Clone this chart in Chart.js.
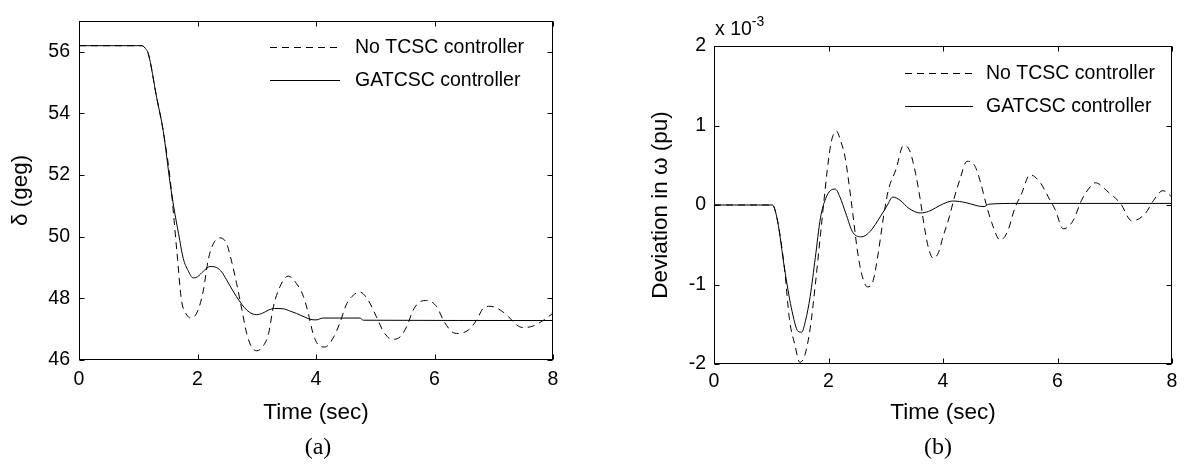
<!DOCTYPE html>
<html>
<head>
<meta charset="utf-8">
<script src="https://cdn.jsdelivr.net/npm/chart.js@4.4.0/dist/chart.umd.min.js"></script>
<style>
  html, body { margin: 0; padding: 0; background: #fff; }
  #wrap { position: relative; width: 1187px; height: 467px; overflow: hidden;
          font-family: "Liberation Sans", Arial, sans-serif; color: #000; }
  canvas { position: absolute; top: 0; }
  #chartA { left: 0; }
  #chartB { left: 620px; }
  .cap { position: absolute; top: 432px; width: 60px; margin-left: -30px; text-align: center;
         font-family: "Liberation Serif", "Times New Roman", serif; font-size: 24px; line-height: 28px; }
  .exp { position: absolute; left: 715px; top: 11px; font-size: 19.5px; line-height: 20px; white-space: nowrap; }
  .exp sup { font-size: 14px; vertical-align: 9px; }
</style>
</head>
<body>
<div id="wrap">
  <canvas id="chartA" width="600" height="467"></canvas>
  <canvas id="chartB" width="567" height="467"></canvas>
  <div class="exp">x 10<sup>-3</sup></div>
  <div class="cap" style="left:318px">(a)</div>
  <div class="cap" style="left:938px">(b)</div>
</div>
<script>
// (a) rotor angle, degrees
const tAngleNo = [0, 1.06, 1.12, 1.17, 1.31, 1.42, 1.54, 1.65, 1.73, 1.82, 1.9, 2.01, 2.1, 2.18, 2.27, 2.38, 2.49, 2.57, 2.66, 2.75,
  2.83, 2.91, 3.0, 3.1, 3.2, 3.28, 3.39, 3.53, 3.67, 3.79, 3.87, 3.95, 4.04, 4.15, 4.3, 4.4, 4.52, 4.63, 4.74, 4.88,
  5.02, 5.14, 5.28, 5.42, 5.53, 5.64, 5.76, 5.87, 6.04, 6.15, 6.29, 6.4, 6.57, 6.71, 6.82, 6.94, 7.11, 7.25, 7.39, 7.5,
  7.66, 7.84, 8.0];
const angleNo = [56.19, 56.19, 56.1, 55.93, 54.52, 53.44, 51.83, 49.56, 47.94, 47.46, 47.36, 47.62, 48.27, 49.24, 49.78, 49.96, 49.78, 49.24, 48.48, 47.62,
  46.86, 46.43, 46.3, 46.43, 46.86, 47.72, 48.37, 48.72, 48.48, 48.05, 47.51, 46.86, 46.49, 46.42, 46.75, 47.19, 47.83, 48.1, 48.2, 47.94,
  47.4, 46.92, 46.67, 46.75, 47.08, 47.62, 47.89, 47.93, 47.72, 47.29, 46.92, 46.86, 46.97, 47.29, 47.67, 47.74, 47.62, 47.4, 47.13, 47.05,
  47.1, 47.29, 47.52];
const tAngleGa = [0, 1.06, 1.12, 1.17, 1.31, 1.42, 1.54, 1.6, 1.68, 1.76, 1.84, 1.93, 2.0, 2.1, 2.21, 2.32, 2.41, 2.49, 2.58, 2.66,
  2.75, 2.83, 2.92, 3.0, 3.1, 3.2, 3.3, 3.45, 3.57, 3.67, 3.8, 3.9, 4.0, 4.12, 4.4, 4.74, 4.8, 8.0];
const angleGa = [56.19, 56.19, 56.1, 55.93, 54.52, 53.44, 51.7, 50.95, 50.1, 49.29, 48.9, 48.66, 48.7, 48.88, 49.03, 49.0, 48.85, 48.6, 48.3, 48.05,
  47.8, 47.62, 47.5, 47.47, 47.52, 47.62, 47.67, 47.66, 47.58, 47.51, 47.4, 47.32, 47.3, 47.36, 47.36, 47.36, 47.29, 47.28];

// (b) speed deviation, x 1e-3 pu
const tSpeedNo = [0, 1.02, 1.11, 1.23, 1.32, 1.41, 1.5, 1.59, 1.68, 1.77, 1.86, 1.92, 1.98, 2.05, 2.14, 2.21, 2.29, 2.37, 2.44, 2.5,
  2.58, 2.68, 2.78, 2.87, 2.96, 3.05, 3.18, 3.31, 3.42, 3.52, 3.6, 3.68, 3.75, 3.83, 3.92, 4.0, 4.11, 4.2, 4.29, 4.42,
  4.55, 4.65, 4.75, 4.85, 5.0, 5.13, 5.25, 5.37, 5.52, 5.69, 5.84, 5.96, 6.1, 6.27, 6.42, 6.54, 6.66, 6.89, 7.1, 7.3,
  7.53, 7.68, 7.84, 8.0];
const speedNo = [0, 0, -0.2, -0.79, -1.45, -1.75, -1.98, -1.88, -1.55, -1.0, -0.37, 0.05, 0.45, 0.8, 0.93, 0.81, 0.6, 0.2, -0.2, -0.55,
  -0.87, -1.03, -0.95, -0.6, -0.15, 0.2, 0.45, 0.75, 0.68, 0.4, 0.08, -0.3, -0.55, -0.67, -0.6, -0.4, -0.15, 0.1, 0.31, 0.55,
  0.5, 0.3, 0.02, -0.22, -0.44, -0.33, -0.05, 0.14, 0.38, 0.29, 0.1, -0.06, -0.3, -0.2, 0.06, 0.2, 0.28, 0.16, 0.02, -0.2,
  -0.11, 0.06, 0.18, 0.1];
const tSpeedGa = [0, 1.02, 1.11, 1.23, 1.35, 1.47, 1.53, 1.6, 1.68, 1.77, 1.86, 1.95, 2.03, 2.12, 2.2, 2.3, 2.43, 2.58, 2.73, 2.91,
  3.03, 3.12, 3.25, 3.4, 3.6, 3.75, 3.99, 4.17, 4.4, 4.6, 4.72, 4.8, 5.3, 6.5, 8.0];
const speedGa = [0, 0, -0.2, -0.79, -1.29, -1.59, -1.6, -1.45, -1.15, -0.66, -0.16, 0.08, 0.18, 0.2, 0.1, -0.1, -0.35, -0.4, -0.33, -0.14,
  0.0, 0.1, 0.06, -0.04, -0.1, -0.08, 0.01, 0.05, 0.03, -0.01, -0.02, 0.01, 0.02, 0.02, 0.02];

const timeTicks = [0, 2, 4, 6, 8];
const angleTicks = [46, 48, 50, 52, 54, 56];
const speedTicks = [-2, -1, 0, 1, 2];
const seriesNames = ['No TCSC controller', 'GATCSC controller'];

const tickFont = { family: '"Liberation Sans", Arial, sans-serif', size: 19.5 };
const titleFont = { family: '"Liberation Sans", Arial, sans-serif', size: 22.5 };

const toPoints = (t, v) => t.map((x, i) => ({ x: x, y: v[i] }));

// box round the plot area with inward tick marks on all four sides
const framePlugin = {
  id: 'frame',
  afterDraw(chart) {
    const { ctx, chartArea: a, scales } = chart;
    const L = Math.round(a.left) + 0.5, R = Math.round(a.right) - 0.5;
    const T = Math.round(a.top) + 0.5, B = Math.round(a.bottom) - 0.5;
    ctx.save();
    ctx.strokeStyle = '#000';
    ctx.lineWidth = 1;
    ctx.setLineDash([]);
    ctx.strokeRect(L, T, R - L, B - T);
    ctx.beginPath();
    scales.x.ticks.forEach(tk => {
      const px = Math.round(scales.x.getPixelForValue(tk.value)) + 0.5;
      ctx.moveTo(px, B); ctx.lineTo(px, B - 5);
      ctx.moveTo(px, T); ctx.lineTo(px, T + 5);
    });
    scales.y.ticks.forEach(tk => {
      const py = Math.round(scales.y.getPixelForValue(tk.value)) + 0.5;
      ctx.moveTo(L, py); ctx.lineTo(L + 5, py);
      ctx.moveTo(R, py); ctx.lineTo(R - 5, py);
    });
    ctx.stroke();
    ctx.restore();
  }
};

// legend drawn inside the axes, line sample then label
const keyPlugin = {
  id: 'key',
  afterDraw(chart, args, opts) {
    const ctx = chart.ctx;
    ctx.save();
    ctx.font = tickFont.size + 'px ' + tickFont.family;
    ctx.textBaseline = 'middle';
    ctx.fillStyle = '#000';
    chart.data.datasets.forEach((ds, i) => {
      const y = Math.round(opts.y + i * opts.gap) + 0.5;
      ctx.beginPath();
      ctx.setLineDash(ds.borderDash || []);
      ctx.strokeStyle = ds.borderColor;
      ctx.lineWidth = ds.borderWidth;
      ctx.moveTo(opts.x, y);
      ctx.lineTo(opts.x + opts.len, y);
      ctx.stroke();
      ctx.setLineDash([]);
      ctx.fillText(ds.label, opts.x + opts.len + opts.textGap, y);
    });
    ctx.restore();
  }
};

function makeChart(id, lines, yRange, yTicks, yTitle, g) {
  return new Chart(document.getElementById(id), {
    type: 'line',
    data: {
      datasets: [
        { label: seriesNames[0], data: toPoints(lines[0][0], lines[0][1]), borderColor: '#000', borderWidth: 1,
          borderDash: [7, 5], pointRadius: 0, cubicInterpolationMode: 'monotone', fill: false },
        { label: seriesNames[1], data: toPoints(lines[1][0], lines[1][1]), borderColor: '#000', borderWidth: 1,
          pointRadius: 0, cubicInterpolationMode: 'monotone', fill: false }
      ]
    },
    options: {
      responsive: false,
      animation: false,
      layout: { padding: { left: 0, top: g.top, right: g.right, bottom: 0 } },
      plugins: {
        legend: { display: false },
        tooltip: { enabled: false },
        key: g.key
      },
      scales: {
        x: {
          type: 'linear', min: 0, max: 8,
          afterBuildTicks: s => { s.ticks = timeTicks.map(v => ({ value: v })); },
          afterFit: s => { s.height = g.xHeight; },
          grid: { display: false, drawTicks: false },
          border: { display: false },
          ticks: { color: '#000', font: tickFont, padding: g.xPad, maxRotation: 0 },
          title: { display: true, text: 'Time (sec)', color: '#000', font: titleFont, padding: { top: 0, bottom: 40.5 } }
        },
        y: {
          type: 'linear', min: yRange[0], max: yRange[1],
          afterBuildTicks: s => { s.ticks = yTicks.map(v => ({ value: v })); },
          afterFit: s => { s.width = g.yWidth; },
          grid: { display: false, drawTicks: false },
          border: { display: false },
          ticks: { color: '#000', font: tickFont, padding: g.yPad, callback: v => String(v) },
          title: { display: true, text: yTitle, color: '#000', font: titleFont, padding: { top: g.yTitlePad, bottom: 0 } }
        }
      }
    },
    plugins: [framePlugin, keyPlugin]
  });
}

makeChart('chartA', [[tAngleNo, angleNo], [tAngleGa, angleGa]], [46, 57], angleTicks, 'δ (geg)',
  { top: 20, right: 47, xHeight: 107, yWidth: 79, xPad: 8, yPad: 9, yTitlePad: 7,
    key: { x: 270, y: 47, gap: 33, len: 70, textGap: 15 } });

makeChart('chartB', [[tSpeedNo, speedNo], [tSpeedGa, speedGa]], [-2, 2], speedTicks, 'Deviation in ω (pu)',
  { top: 46, right: 15, xHeight: 103, yWidth: 94, xPad: 6, yPad: 8, yTitlePad: 27.5,
    key: { x: 285, y: 73, gap: 33, len: 68, textGap: 13 } });
</script>
</body>
</html>
